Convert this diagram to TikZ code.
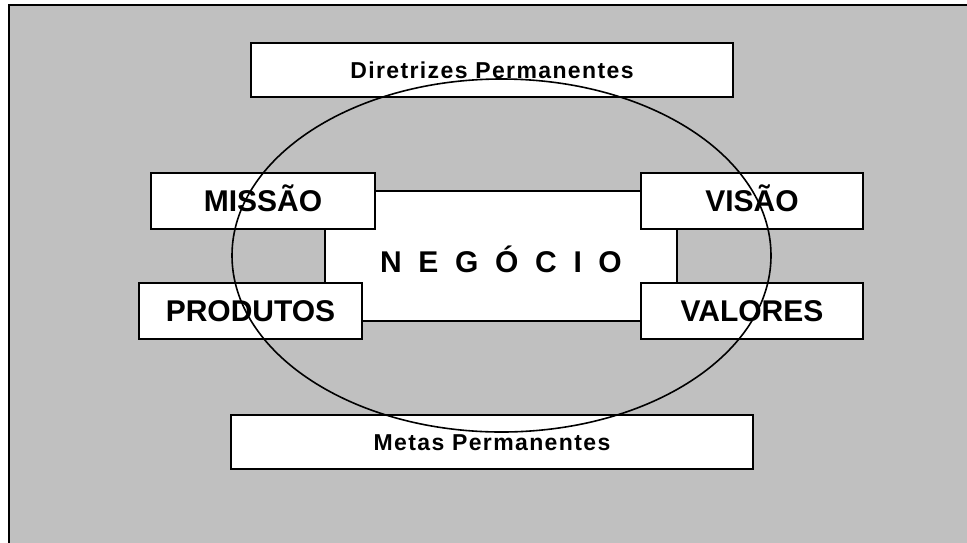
\documentclass[tikz,border=0pt]{standalone}
\usepackage{fontspec}
\setmainfont{Liberation Sans}
\newfontfamily\espacada[LetterSpace=6]{Liberation Sans Bold}
\usepackage{tikz}

\begin{document}
\begin{tikzpicture}[x=1pt, y=-1pt, line width=1.3pt,
  caixa/.style={draw, fill=white, rectangle, inner sep=0pt},
  grande/.style={font=\fontsize{30}{36}\selectfont\bfseries, text height=21.5pt, text depth=0pt},
  pequena/.style={font=\fontsize{23}{27}\espacada, text height=16.5pt, text depth=0pt}]
  \useasboundingbox (0,0) rectangle (967,542);
  \clip (0,0) rectangle (967,542);

  % fundo
  \path[draw, fill={rgb,255:red,192;green,192;blue,192}] (9,5) rectangle (980,560);

  % caixa central
  \node[caixa, grande, minimum width=352pt, minimum height=130pt, text height=32.5pt]
    (negocio) at (501,256) {N~~E~~G~~Ó~~C~~I~~O};

  \node[caixa, pequena, minimum width=482pt, minimum height=54pt] (diretrizes) at (492,70) {Diretrizes Permanentes};
  \node[caixa, pequena, minimum width=522pt, minimum height=54pt] (metas) at (492,442) {Metas Permanentes};

  \node[caixa, grande, minimum width=224pt, minimum height=56pt] (missao) at (263,201) {MISSÃO};
  \node[caixa, grande, minimum width=222pt, minimum height=56pt] (visao) at (752,201) {VISÃO};
  \node[caixa, grande, minimum width=223pt, minimum height=56pt] (produtos) at (250.5,311) {PRODUTOS};
  \node[caixa, grande, minimum width=222pt, minimum height=56pt] (valores) at (752,311) {VALORES};

  % elipse
  \draw[line width=1.6pt] (501.5,255.5) ellipse [x radius=269.5pt, y radius=176.5pt];
\end{tikzpicture}
\end{document}
